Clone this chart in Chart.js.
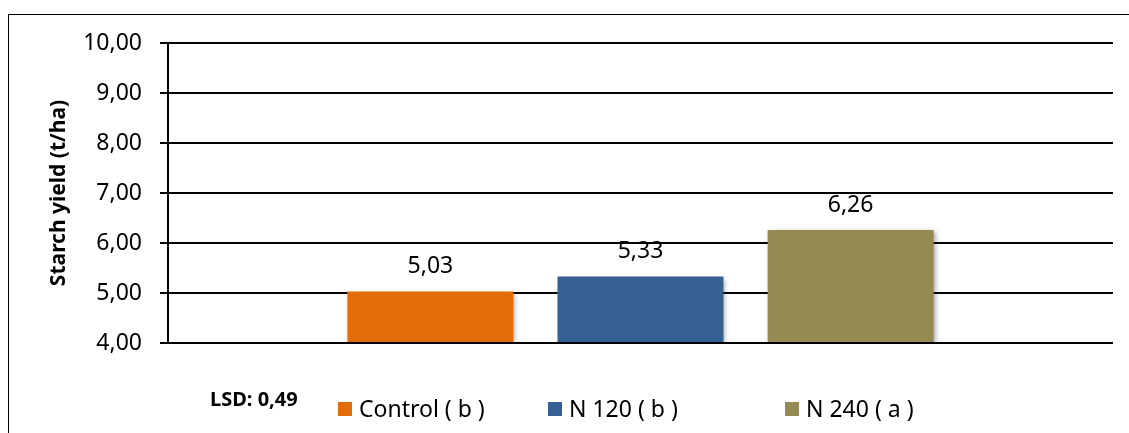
<!DOCTYPE html>
<html>
<head>
<meta charset="utf-8">
<script src="https://cdn.jsdelivr.net/npm/chart.js@4.4.0/dist/chart.umd.min.js"></script>
<style>
  body { margin: 0; background: #fff; font-family: "Noto Sans", sans-serif; }
  .chart-frame { position: absolute; left: 0; top: 0; width: 1129px; height: 433px; overflow: hidden; }
  .frame-border { position: absolute; left: 8px; top: 14px; right: -2px; bottom: -2px; border-left: 1px solid #000; border-top: 1px solid #000; }
  #starchChart { position: absolute; left: 0; top: 0; }
  .canvas-legend { position: absolute; left: 210px; top: 392px; }
  .canvas-legend__list { list-style: none; margin: 0; padding: 0; display: flex; align-items: center; }
  .canvas-legend__item { display: flex; align-items: center; white-space: nowrap; }
  .canvas-legend__lsd { width: 128px; font-weight: bold; font-size: 20px; position: relative; top: -10px; }
  .canvas-legend__box { display: inline-block; width: 14px; height: 14px; margin-right: 7px; position: relative; top: 1px; }
  .canvas-legend__label { margin: 0; font-size: 23px; color: #000; }
</style>
</head>
<body>
<div class="chart-frame">
  <div class="frame-border"></div>
  <canvas id="starchChart" width="1129" height="433"></canvas>
  <div class="canvas-legend" id="legend-container"></div>
</div>
<script>
"use strict";

// data
const categories = [""];
const seriesNames = ["Control ( b )", "N 120 ( b )", "N 240 ( a )"];
const starchYield = [5.03, 5.33, 6.26];
const barColors = ["#E36C0A", "#366092", "#948A54"];
const yMin = 4;
const yMax = 10;
const yStep = 1;
const yTitle = "Starch yield (t/ha)";
const lsdText = "LSD: 0,49";

const commaNumber = (v) => v.toFixed(2).replace(".", ",");

// bars get a soft shadow like the office chart
const barShadow = {
  id: "barShadow",
  beforeDatasetDraw(chart) {
    const ctx = chart.ctx;
    ctx.save();
    ctx.shadowColor = "rgba(0,0,0,0.35)";
    ctx.shadowBlur = 5;
    ctx.shadowOffsetX = 2;
    ctx.shadowOffsetY = 2;
  },
  afterDatasetDraw(chart) {
    chart.ctx.restore();
  },
};

const barValueLabels = {
  id: "barValueLabels",
  afterDatasetsDraw(chart) {
    const ctx = chart.ctx;
    ctx.save();
    ctx.font = "23px 'Noto Sans'";
    ctx.fillStyle = "#000";
    ctx.textAlign = "center";
    ctx.textBaseline = "middle";
    chart.data.datasets.forEach((ds, i) => {
      chart.getDatasetMeta(i).data.forEach((bar, j) => {
        ctx.fillText(commaNumber(ds.data[j]), bar.x, bar.y - 25);
      });
    });
    ctx.restore();
  },
};

const htmlLegendPlugin = {
  id: "htmlLegend",
  afterUpdate(chart, args, options) {
    const container = document.getElementById(options.containerID);
    container.innerHTML = "";
    const ul = document.createElement("ul");
    ul.classList.add("canvas-legend__list");

    const lsd = document.createElement("li");
    lsd.classList.add("canvas-legend__item", "canvas-legend__lsd");
    lsd.textContent = lsdText;
    ul.appendChild(lsd);

    const widths = [210, 237, null];
    const items = chart.options.plugins.legend.labels.generateLabels(chart);
    items.forEach((item, i) => {
      const li = document.createElement("li");
      li.classList.add("canvas-legend__item");
      if (widths[i]) li.style.width = widths[i] + "px";
      const box = document.createElement("span");
      box.classList.add("canvas-legend__box");
      box.style.background = item.fillStyle;
      const text = document.createElement("p");
      text.classList.add("canvas-legend__label");
      text.textContent = item.text;
      li.appendChild(box);
      li.appendChild(text);
      ul.appendChild(li);
    });
    container.appendChild(ul);
  },
};

const context = document.querySelector("#starchChart").getContext("2d");
new Chart(context, {
  type: "bar",
  data: {
    labels: categories,
    datasets: seriesNames.map((name, i) => ({
      label: name,
      data: [starchYield[i]],
      backgroundColor: barColors[i],
      borderWidth: 0,
      base: yMin,
    })),
  },
  options: {
    responsive: false,
    animation: false,
    categoryPercentage: 0.667,
    barPercentage: 0.79,
    layout: {
      padding: { top: 43, right: 16, bottom: 90, left: 0 },
    },
    plugins: {
      legend: { display: false },
      tooltip: { enabled: false },
      htmlLegend: { containerID: "legend-container" },
    },
    scales: {
      x: {
        display: false,
      },
      y: {
        min: yMin,
        max: yMax,
        afterFit(scale) {
          scale.width = 168;
        },
        ticks: {
          stepSize: yStep,
          padding: 18,
          color: "#000",
          font: { family: "'Noto Sans'", size: 23 },
          callback: function (value) {
            return commaNumber(value);
          },
        },
        grid: {
          color: "#000",
          lineWidth: 2,
          tickLength: 8,
          tickColor: "#000",
        },
        border: {
          color: "#000",
          width: 2,
        },
        title: {
          display: true,
          text: yTitle,
          color: "#000",
          font: { family: "'Noto Sans'", size: 21, weight: "bold" },
          padding: { top: 46, bottom: 0 },
        },
      },
    },
  },
  plugins: [barShadow, barValueLabels, htmlLegendPlugin],
});
</script>
</body>
</html>
